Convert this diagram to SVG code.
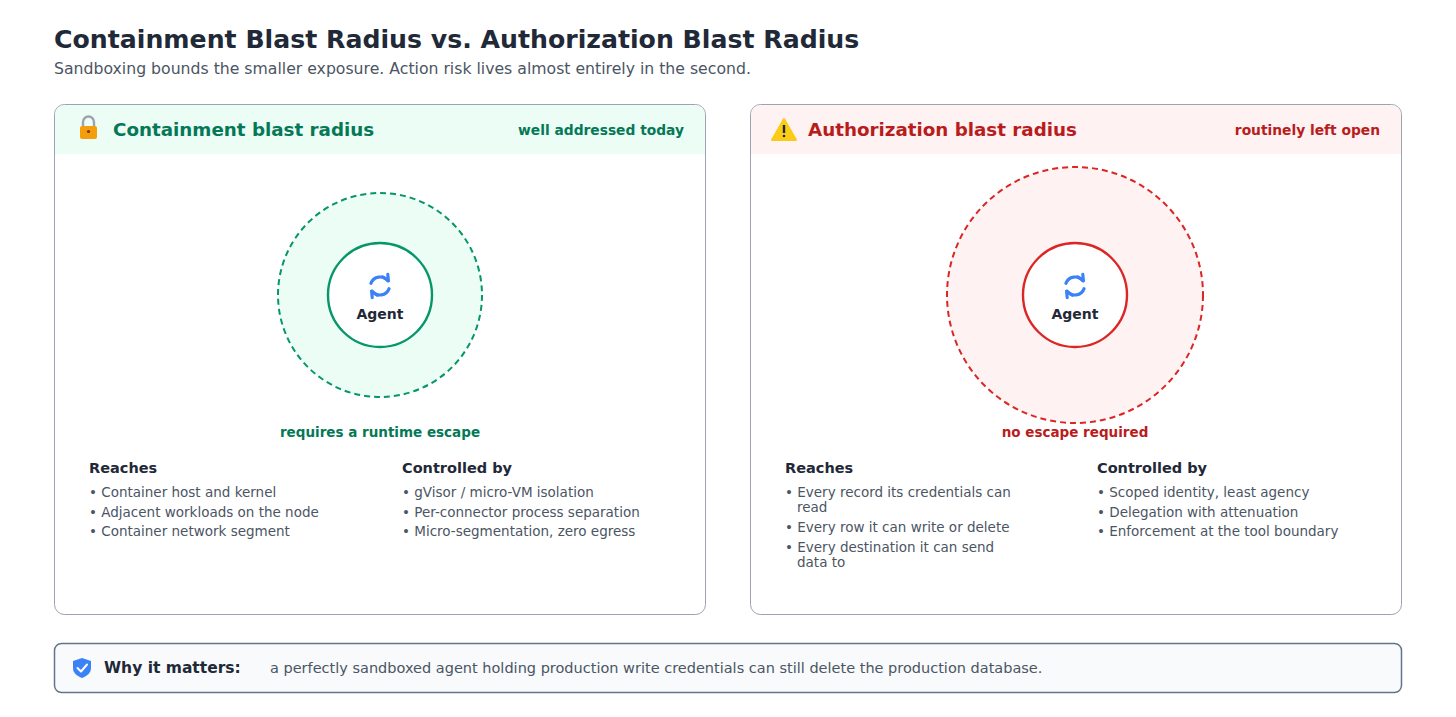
<svg xmlns="http://www.w3.org/2000/svg" width="1456" height="717" viewBox="0 0 1456 717">
<style>
text{font-family:"DejaVu Sans","Liberation Sans",sans-serif}
.h{font-size:14.5px;font-weight:bold;fill:#1f2937}
.li{font-size:13.5px;fill:#4b5563}
.ag{font-size:14px;font-weight:bold;fill:#1f2937}
</style>
<defs>
<g id="ref" fill="none" stroke="#3b82f6" stroke-width="2.4" stroke-linecap="round" transform="scale(1.3)">
<path d="M-7,-2 A7.5,7.5 0 0 1 6,-4"/><path d="M7,2 A7.5,7.5 0 0 1 -6,4"/>
<path d="M2,-7 L6.5,-4 L6,-9" stroke-linejoin="round"/>
<path d="M-2,7 L-6.5,4 L-6,9" stroke-linejoin="round"/>
</g>
</defs>
<rect width="1456" height="717" fill="#fff"/>
<text x="54" y="48" font-size="25.2" font-weight="bold" fill="#1f2937">Containment Blast Radius vs. Authorization Blast Radius</text>
<text x="54" y="74" font-size="15.7" fill="#4b5563">Sandboxing bounds the smaller exposure. Action risk lives almost entirely in the second.</text>

<g id="left">
<rect x="54.5" y="104.5" width="651" height="510" rx="10" fill="#fff" stroke="#9ca3af"/>
<path d="M55,154 V114 A10,10 0 0 1 65,105 H695 A10,10 0 0 1 705,114 V154 Z" fill="#ecfdf5"/>
<rect x="80" y="126" width="17" height="13" rx="2" fill="#f59e0b"/>
<path d="M83,126 V122 A5.5,5.5 0 0 1 94,122 V126" fill="none" stroke="#9ca3af" stroke-width="2.4"/>
<circle cx="88.5" cy="131.5" r="1.6" fill="#7c2d12"/>
<text x="113" y="136" font-size="18.3" font-weight="bold" fill="#047857">Containment blast radius</text>
<text x="684" y="135" font-size="13.8" font-weight="bold" fill="#047857" text-anchor="end">well addressed today</text>
<circle cx="380" cy="295" r="102" fill="#ecfdf5" stroke="#059669" stroke-width="2" stroke-dasharray="6 4"/>
<circle cx="380" cy="295" r="52" fill="#fff" stroke="#059669" stroke-width="2.4"/>
<use href="#ref" x="380" y="286"/>
<text x="380" y="319" class="ag" text-anchor="middle">Agent</text>
<text x="380" y="437" font-size="13.5" font-weight="bold" fill="#047857" text-anchor="middle">requires a runtime escape</text>
<text x="89" y="473" class="h">Reaches</text>
<text x="89" y="497" class="li">• Container host and kernel</text>
<text x="89" y="517" class="li">• Adjacent workloads on the node</text>
<text x="89" y="536" class="li">• Container network segment</text>
<text x="402" y="473" class="h">Controlled by</text>
<text x="402" y="497" class="li">• gVisor / micro-VM isolation</text>
<text x="402" y="517" class="li">• Per-connector process separation</text>
<text x="402" y="536" class="li">• Micro-segmentation, zero egress</text>
</g>

<g id="right">
<rect x="750.5" y="104.5" width="651" height="510" rx="10" fill="#fff" stroke="#9ca3af"/>
<path d="M751,154 V114 A10,10 0 0 1 761,105 H1391 A10,10 0 0 1 1401,114 V154 Z" fill="#fef2f2"/>
<path d="M784,119 L796,140 H772 Z" fill="#facc15" stroke="#facc15" stroke-width="2" stroke-linejoin="round"/>
<rect x="782.8" y="125" width="2.4" height="8" fill="#1f2937"/><circle cx="784" cy="136" r="1.3" fill="#1f2937"/>
<text x="808" y="136" font-size="18.3" font-weight="bold" fill="#b91c1c">Authorization blast radius</text>
<text x="1380" y="135" font-size="13.8" font-weight="bold" fill="#b91c1c" text-anchor="end">routinely left open</text>
<circle cx="1075" cy="295" r="128" fill="#fef2f2" stroke="#dc2626" stroke-width="2" stroke-dasharray="6 4"/>
<circle cx="1075" cy="295" r="52" fill="#fff" stroke="#dc2626" stroke-width="2.4"/>
<use href="#ref" x="1075" y="286"/>
<text x="1075" y="319" class="ag" text-anchor="middle">Agent</text>
<text x="1075" y="437" font-size="13.5" font-weight="bold" fill="#b91c1c" text-anchor="middle">no escape required</text>
<text x="785" y="473" class="h">Reaches</text>
<text x="785" y="497" class="li">• Every record its credentials can</text>
<text x="797" y="512" class="li">read</text>
<text x="785" y="532" class="li">• Every row it can write or delete</text>
<text x="785" y="552" class="li">• Every destination it can send</text>
<text x="797" y="567" class="li">data to</text>
<text x="1097" y="473" class="h">Controlled by</text>
<text x="1097" y="497" class="li">• Scoped identity, least agency</text>
<text x="1097" y="517" class="li">• Delegation with attenuation</text>
<text x="1097" y="536" class="li">• Enforcement at the tool boundary</text>
</g>

<g id="why">
<rect x="54.5" y="643.5" width="1347" height="49" rx="7" fill="#f8fafc" stroke="#64748b" stroke-width="1.5"/>
<path d="M82,658 L91,661 V668 C91,673 87,676 82,678 C77,676 73,673 73,668 V661 Z" fill="#3b82f6"/>
<path d="M77.5,668 L81,671.5 L87,664.5" fill="none" stroke="#fff" stroke-width="2" stroke-linecap="round" stroke-linejoin="round"/>
<text x="104" y="673" font-size="15.5" font-weight="bold" fill="#1f2937">Why it matters:</text>
<text x="270" y="673" font-size="14.5" fill="#4b5563">a perfectly sandboxed agent holding production write credentials can still delete the production database.</text>
</g>
<g id="connectors"/>
</svg>
